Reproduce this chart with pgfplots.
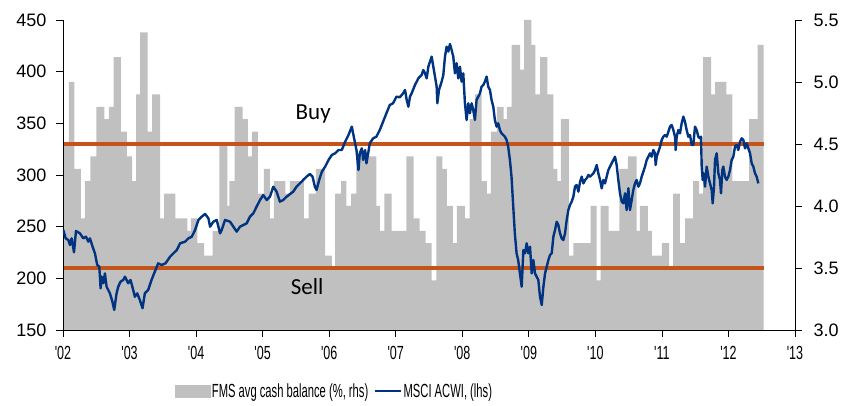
\documentclass[border=0pt]{standalone}
\usepackage{fontspec}
\setmainfont{Liberation Sans}
\newfontfamily\carlito{Carlito}
\usepackage{graphicx}
\usepackage{pgfplots}
\usepackage{pgfplotstable}
\pgfplotsset{compat=1.18}

\definecolor{barc}{RGB}{192,192,192}
\definecolor{orng}{RGB}{197,84,26}
\definecolor{navy}{RGB}{0,51,128}

\newcommand\nar[1]{\scalebox{0.59}[1]{#1}}
\newcommand\yr[1]{\scalebox{0.66}[1]{\textquotesingle#1}}

% FMS avg cash balance (%), left edge of each bar in years
\pgfplotstableread{
yr v
2002.00 4.5
2002.09 5.0
2002.17 4.3
2002.27 3.9
2002.33 4.2
2002.41 4.4
2002.50 4.8
2002.62 4.7
2002.69 4.8
2002.76 5.2
2002.87 4.6
2002.96 4.4
2003.04 4.2
2003.10 4.9
2003.16 5.4
2003.27 4.6
2003.34 4.9
2003.46 3.9
2003.52 4.1
2003.69 3.9
2003.87 3.8
2003.92 3.9
2004.02 3.7
2004.12 3.6
2004.25 3.8
2004.35 4.5
2004.47 4.0
2004.50 4.2
2004.58 4.8
2004.70 4.7
2004.78 4.4
2004.84 4.6
2004.93 4.1
2005.02 4.3
2005.11 3.9
2005.17 4.2
2005.34 4.1
2005.41 4.2
2005.62 3.9
2005.69 4.1
2005.80 4.3
2005.94 3.6
2006.04 3.5
2006.09 4.1
2006.18 4.2
2006.26 4.0
2006.33 4.1
2006.41 4.4
2006.71 4.0
2006.76 3.8
2006.83 4.1
2006.94 3.8
2007.16 4.4
2007.27 3.9
2007.36 3.8
2007.45 3.7
2007.54 3.4
2007.61 4.4
2007.70 4.3
2007.77 4.0
2007.86 3.7
2007.92 4.0
2008.04 3.9
2008.11 4.7
2008.19 4.9
2008.29 4.2
2008.37 4.1
2008.43 4.6
2008.52 4.8
2008.62 4.7
2008.67 4.8
2008.74 5.3
2008.87 5.1
2008.93 5.5
2009.04 5.3
2009.10 4.9
2009.17 5.2
2009.28 4.9
2009.37 4.3
2009.43 4.2
2009.48 4.7
2009.60 3.6
2009.67 3.7
2009.93 4.0
2010.02 3.4
2010.08 4.0
2010.20 3.8
2010.36 4.3
2010.49 4.4
2010.62 3.8
2010.67 4.0
2010.79 3.8
2010.85 3.6
2011.00 3.7
2011.11 3.5
2011.17 4.1
2011.27 3.7
2011.35 3.9
2011.47 4.2
2011.56 4.1
2011.62 5.2
2011.74 4.9
2011.80 5.0
2011.97 4.9
2012.06 4.2
2012.31 4.7
2012.44 5.3
2012.53 5.3
}\bars

% MSCI ACWI
\pgfplotstableread{
yr v
2002.005 246.8
2002.04 238.7
2002.08 237.1
2002.105 232.3
2002.13 238.7
2002.165 225.2
2002.195 245.8
2002.255 243.5
2002.305 238.7
2002.345 240.3
2002.38 235.5
2002.405 238.7
2002.445 230.6
2002.48 224.2
2002.515 212.9
2002.545 211.3
2002.555 201.6
2002.565 190.3
2002.58 201.6
2002.605 195.2
2002.63 204.8
2002.655 191.9
2002.705 185.5
2002.74 178.0
2002.77 169.4
2002.805 185.5
2002.83 191.9
2002.865 196.8
2002.905 198.4
2002.93 201.6
2002.98 195.2
2003.015 198.4
2003.055 188.7
2003.08 182.2
2003.115 185.5
2003.155 179.0
2003.195 171.0
2003.23 185.5
2003.28 188.7
2003.33 198.4
2003.38 206.5
2003.43 214.5
2003.48 212.9
2003.54 214.5
2003.61 221.0
2003.66 224.2
2003.71 227.4
2003.76 233.9
2003.835 235.5
2003.885 238.7
2003.935 240.3
2003.985 246.8
2004.035 256.5
2004.085 259.7
2004.135 262.3
2004.185 258.1
2004.21 250.0
2004.26 254.8
2004.31 256.5
2004.36 243.5
2004.385 246.8
2004.435 256.5
2004.51 254.8
2004.56 250.0
2004.61 245.2
2004.66 250.0
2004.71 251.6
2004.76 253.2
2004.81 259.7
2004.86 262.9
2004.91 269.4
2004.96 275.8
2005.01 280.6
2005.06 275.8
2005.11 279.0
2005.16 288.7
2005.21 283.9
2005.26 274.2
2005.31 275.8
2005.36 279.0
2005.46 283.9
2005.51 288.7
2005.56 291.9
2005.61 295.2
2005.66 298.4
2005.71 301.0
2005.75 298.4
2005.785 288.7
2005.81 285.5
2005.85 295.2
2005.89 303.2
2005.94 308.1
2005.99 314.5
2006.04 319.4
2006.09 321.0
2006.14 324.2
2006.19 324.2
2006.24 332.3
2006.29 338.7
2006.34 346.8
2006.36 340.3
2006.39 330.6
2006.41 324.2
2006.44 304.8
2006.46 321.0
2006.49 325.8
2006.51 314.5
2006.54 324.2
2006.56 311.3
2006.59 322.6
2006.61 330.6
2006.66 335.5
2006.71 337.1
2006.76 343.5
2006.81 351.6
2006.86 359.7
2006.91 367.7
2006.96 369.4
2007.01 375.8
2007.06 375.2
2007.11 379.0
2007.14 382.3
2007.165 372.6
2007.19 366.1
2007.214 375.8
2007.239 379.0
2007.289 387.1
2007.339 393.5
2007.389 396.8
2007.414 401.6
2007.44 398.4
2007.465 393.5
2007.49 404.8
2007.515 409.7
2007.54 414.5
2007.565 404.8
2007.59 395.2
2007.615 385.5
2007.625 369.4
2007.65 382.3
2007.69 390.3
2007.715 396.8
2007.74 414.5
2007.765 424.2
2007.79 419.4
2007.815 426.8
2007.84 421.0
2007.865 414.5
2007.89 398.4
2007.915 408.1
2007.94 393.5
2007.965 404.8
2007.99 390.3
2008.015 398.4
2008.04 369.4
2008.065 353.2
2008.09 369.4
2008.115 359.7
2008.14 369.4
2008.165 362.9
2008.19 353.2
2008.215 372.6
2008.24 375.8
2008.266 379.0
2008.29 385.5
2008.316 387.1
2008.34 390.3
2008.366 395.2
2008.39 385.5
2008.416 382.3
2008.44 372.6
2008.466 366.1
2008.49 353.2
2008.516 346.8
2008.54 350.0
2008.566 343.5
2008.59 340.3
2008.616 338.7
2008.64 337.1
2008.666 333.9
2008.69 327.4
2008.716 314.5
2008.74 298.4
2008.766 269.4
2008.79 243.5
2008.816 224.2
2008.84 217.7
2008.866 204.8
2008.893 191.9
2008.918 227.4
2008.943 224.2
2008.968 233.9
2008.993 224.2
2009.018 230.6
2009.043 204.8
2009.068 217.7
2009.093 204.8
2009.118 201.6
2009.143 198.4
2009.168 182.3
2009.194 174.2
2009.219 191.9
2009.244 204.8
2009.269 211.3
2009.294 217.7
2009.319 222.6
2009.344 224.2
2009.369 240.3
2009.394 246.8
2009.419 254.8
2009.444 251.6
2009.469 243.5
2009.494 238.7
2009.519 237.1
2009.544 243.5
2009.569 256.5
2009.594 266.1
2009.619 271.0
2009.644 274.2
2009.669 279.0
2009.694 288.7
2009.719 290.3
2009.745 283.9
2009.77 293.5
2009.795 298.4
2009.82 291.9
2009.845 295.2
2009.87 296.8
2009.895 300.0
2009.92 298.4
2009.945 300.0
2009.97 301.6
2009.995 304.8
2010.02 309.7
2010.045 301.6
2010.07 295.2
2010.095 287.1
2010.12 295.2
2010.145 291.9
2010.17 298.4
2010.195 304.8
2010.22 308.1
2010.245 311.3
2010.27 314.5
2010.295 317.7
2010.32 309.7
2010.345 295.2
2010.37 282.3
2010.396 274.2
2010.42 272.6
2010.446 282.3
2010.47 266.1
2010.496 287.1
2010.52 266.1
2010.546 275.8
2010.57 285.5
2010.596 291.9
2010.62 295.2
2010.646 288.7
2010.67 291.9
2010.696 298.4
2010.721 303.2
2010.746 308.1
2010.771 314.5
2010.796 317.7
2010.821 321.0
2010.846 317.7
2010.871 324.2
2010.896 321.0
2010.906 309.7
2010.922 317.7
2010.947 322.6
2010.972 327.4
2010.997 333.9
2011.022 337.1
2011.047 338.7
2011.072 337.1
2011.097 341.9
2011.122 346.8
2011.147 348.4
2011.172 343.5
2011.197 337.1
2011.207 324.2
2011.222 337.1
2011.247 343.5
2011.272 340.3
2011.297 350.0
2011.322 356.5
2011.347 351.6
2011.372 343.5
2011.397 337.1
2011.422 338.7
2011.447 329.0
2011.472 329.0
2011.497 346.8
2011.522 343.5
2011.547 337.1
2011.572 335.5
2011.588 337.1
2011.598 308.1
2011.613 295.2
2011.628 301.6
2011.648 288.7
2011.673 308.1
2011.698 298.4
2011.723 291.9
2011.748 285.5
2011.763 272.6
2011.783 288.7
2011.798 314.5
2011.823 321.0
2011.848 301.6
2011.873 295.2
2011.888 282.3
2011.908 304.8
2011.923 308.1
2011.948 298.4
2011.973 295.2
2011.998 298.4
2012.023 304.8
2012.048 314.5
2012.073 317.7
2012.098 327.4
2012.123 329.0
2012.148 324.2
2012.174 332.3
2012.199 335.5
2012.224 333.9
2012.249 325.8
2012.274 330.6
2012.299 325.8
2012.324 321.0
2012.349 311.3
2012.374 308.1
2012.399 301.6
2012.424 298.4
2012.449 291.9
}\acwi

\pgfplotsset{
  base/.style={
    scale only axis, width=732pt, height=310pt,
    at={(0pt,0pt)}, anchor=south west,
    xmin=2002, xmax=2013,
    tick align=outside, major tick length=7pt,
    axis line style={black, line width=0.8pt},
    major tick style={black, line width=0.8pt},
    tick label style={font=\fontsize{18}{18}\selectfont},
    /pgf/number format/assume math mode=true,
  }
}

\begin{document}
\begin{tikzpicture}
\useasboundingbox (-63pt,-76pt) rectangle (796pt,330pt);

\begin{axis}[base,
  ymin=3, ymax=5.5,
  axis x line=none, axis y line*=right,
  ytick={3,3.5,4,4.5,5,5.5},
  yticklabel style={/pgf/number format/fixed, /pgf/number format/fixed zerofill,
    /pgf/number format/precision=1, xshift=8pt},
]
\addplot[ybar interval, fill=barc, draw=none] table[x=yr, y=v] {\bars};
\addplot[orng, line width=3.5pt] coordinates {(2002,4.5) (2012.53,4.5)};
\addplot[orng, line width=3.5pt] coordinates {(2002,3.5) (2012.53,3.5)};
\end{axis}

\begin{axis}[base,
  ymin=150, ymax=450,
  axis x line*=bottom, axis y line*=left,
  ytick={150,200,...,450},
  yticklabel style={xshift=-6pt},
  xtick={2002,2003,...,2013},
  xticklabels={\yr{02},\yr{03},\yr{04},\yr{05},\yr{06},\yr{07},\yr{08},\yr{09},\yr{10},\yr{11},\yr{12},\yr{13}},
  xticklabel style={font=\fontsize{19}{19}\selectfont, yshift=-6pt},
  legend columns=2,
  legend style={draw=none, fill=none, at={(0.148,-0.197)}, anchor=west,
    font=\fontsize{19}{19}\selectfont,
    /tikz/every even column/.append style={column sep=4pt}},
]
\addlegendimage{legend image code/.code={\fill[barc] (0pt,-6pt) rectangle (35pt,6pt);}}
\addlegendentry{\nar{FMS avg cash balance (\%, rhs)}}
\addplot[navy, line width=2.4pt, line join=round,
  legend image code/.code={\draw[navy, line width=1.3pt] (0pt,0pt) -- (26pt,0pt);}]
  table[x=yr, y=v] {\acwi};
\addlegendentry{\nar{MSCI ACWI, (lhs)}}
\node[font=\carlito\fontsize{23}{23}\selectfont, anchor=base] at (axis cs:2005.76,353.9) {Buy};
\node[font=\carlito\fontsize{23}{23}\selectfont, anchor=base] at (axis cs:2005.67,183.9) {Sell};
\end{axis}
\end{tikzpicture}
\end{document}
